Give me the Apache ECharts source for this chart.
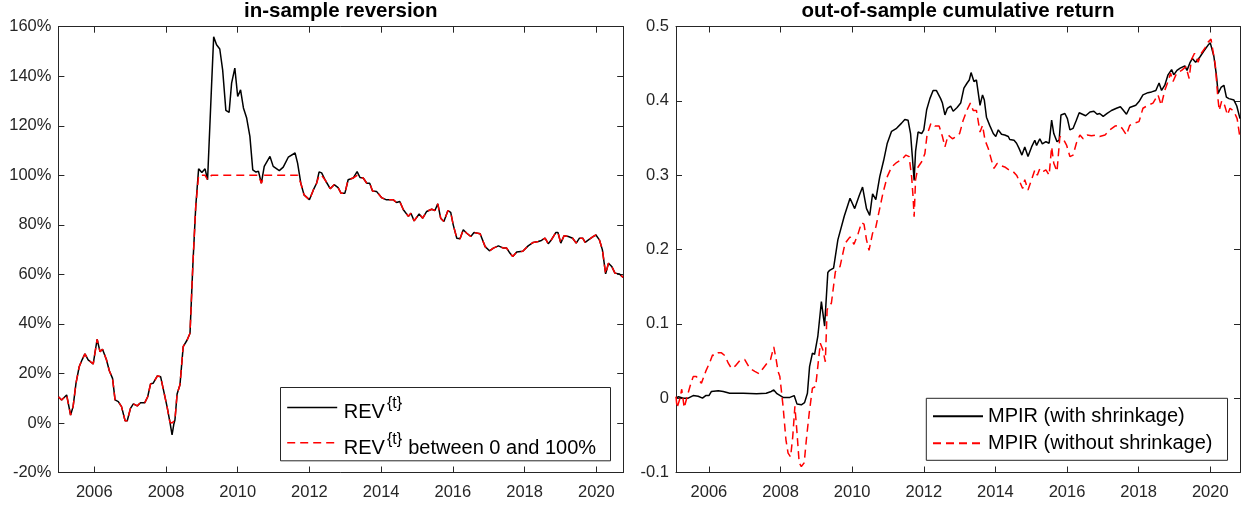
<!DOCTYPE html>
<html>
<head>
<meta charset="utf-8">
<script src="https://cdn.jsdelivr.net/npm/echarts@6/dist/echarts.min.js"></script>
<style>html,body{margin:0;padding:0;background:#fff}#chart{width:1241px;height:506px}</style>
</head>
<body>
<div id="chart"></div>
<script>
// ---- data ----
const leftTitle = 'in-sample reversion';
const rightTitle = 'out-of-sample cumulative return';
const xTickYears = [2006, 2008, 2010, 2012, 2014, 2016, 2018, 2020];

// REV^{t}, percent
const revPoints = [[2005.00,10.6],[2005.09,9.3],[2005.23,11.3],[2005.28,11.0],[2005.34,3.2],[2005.41,6.6],[2005.49,16.0],[2005.58,22.7],[2005.66,25.5],[2005.74,27.9],[2005.83,25.5],[2005.97,23.8],[2006.08,33.8],[2006.16,28.8],[2006.23,29.8],[2006.34,25.5],[2006.42,21.1],[2006.51,18.0],[2006.58,9.3],[2006.67,8.6],[2006.76,6.6],[2006.86,0.9],[2006.92,0.9],[2007.01,5.9],[2007.09,7.7],[2007.20,6.9],[2007.29,8.2],[2007.41,8.2],[2007.49,10.6],[2007.57,15.8],[2007.64,16.0],[2007.76,19.0],[2007.85,18.7],[2007.97,10.6],[2008.03,6.6],[2008.11,0.3],[2008.17,-4.8],[2008.22,-0.4],[2008.25,1.2],[2008.31,11.7],[2008.39,15.4],[2008.48,30.8],[2008.59,33.5],[2008.67,36.2],[2008.75,64.0],[2008.83,87.4],[2008.91,102.6],[2009.00,101.1],[2009.09,102.6],[2009.16,98.2],[2009.27,135.9],[2009.33,155.9],[2009.41,152.7],[2009.50,151.0],[2009.58,142.6],[2009.67,126.2],[2009.76,125.4],[2009.83,137.2],[2009.92,143.3],[2010.00,131.8],[2010.08,134.5],[2010.16,127.2],[2010.25,123.1],[2010.34,115.7],[2010.42,102.2],[2010.51,101.3],[2010.58,101.6],[2010.66,96.8],[2010.74,103.6],[2010.90,107.6],[2010.99,103.6],[2011.16,101.9],[2011.27,103.3],[2011.41,107.3],[2011.60,109.0],[2011.67,104.9],[2011.76,96.8],[2011.85,92.1],[2012.00,90.1],[2012.11,94.1],[2012.20,96.8],[2012.27,101.4],[2012.34,101.0],[2012.45,97.8],[2012.58,94.6],[2012.69,96.2],[2012.80,95.0],[2012.88,92.8],[2012.99,92.8],[2013.08,98.2],[2013.22,98.9],[2013.33,101.5],[2013.41,99.1],[2013.50,98.9],[2013.60,96.8],[2013.68,96.8],[2013.76,93.7],[2013.87,93.5],[2014.01,91.0],[2014.15,90.1],[2014.34,90.1],[2014.43,89.0],[2014.52,89.4],[2014.62,86.1],[2014.76,83.4],[2014.83,84.7],[2014.92,81.6],[2015.06,84.4],[2015.16,82.7],[2015.27,85.4],[2015.41,86.3],[2015.50,85.8],[2015.58,88.5],[2015.66,82.7],[2015.75,81.3],[2015.86,85.7],[2015.94,85.0],[2016.01,80.0],[2016.11,74.6],[2016.20,74.4],[2016.29,78.0],[2016.38,76.7],[2016.50,75.3],[2016.59,76.9],[2016.76,76.4],[2016.90,71.2],[2017.02,69.5],[2017.13,70.6],[2017.27,71.5],[2017.41,70.6],[2017.50,70.6],[2017.59,68.6],[2017.67,67.2],[2017.78,69.0],[2017.95,69.3],[2018.10,71.5],[2018.24,72.9],[2018.38,73.3],[2018.47,73.7],[2018.57,74.6],[2018.66,72.4],[2018.75,74.0],[2018.87,76.9],[2018.93,76.9],[2019.01,72.6],[2019.10,75.6],[2019.22,75.3],[2019.34,74.6],[2019.44,72.6],[2019.53,74.6],[2019.62,74.6],[2019.69,72.9],[2019.81,74.2],[2019.92,75.3],[2019.99,75.9],[2020.09,73.8],[2020.17,69.9],[2020.26,60.2],[2020.34,64.5],[2020.43,63.2],[2020.52,60.5],[2020.64,60.2],[2020.75,58.8]];

// REV^{t} between 0 and 100%, percent
const revBoundedPoints = [[2005.00,10.6],[2005.09,9.3],[2005.23,11.3],[2005.28,11.0],[2005.34,3.2],[2005.41,6.6],[2005.49,16.0],[2005.58,22.7],[2005.66,25.5],[2005.74,27.9],[2005.83,25.5],[2005.97,23.8],[2006.08,33.8],[2006.16,28.8],[2006.23,29.8],[2006.34,25.5],[2006.42,21.1],[2006.51,18.0],[2006.58,9.3],[2006.67,8.6],[2006.76,6.6],[2006.86,0.9],[2006.92,0.9],[2007.01,5.9],[2007.09,7.7],[2007.20,6.9],[2007.29,8.2],[2007.41,8.2],[2007.49,10.6],[2007.57,15.8],[2007.64,16.0],[2007.76,19.0],[2007.85,18.7],[2007.97,10.6],[2008.03,6.6],[2008.11,0.3],[2008.17,0.0],[2008.22,0.0],[2008.25,1.2],[2008.31,11.7],[2008.39,15.4],[2008.48,30.8],[2008.59,33.5],[2008.67,36.2],[2008.75,64.0],[2008.83,87.4],[2008.91,100.0],[2009.00,100.0],[2009.09,100.0],[2009.16,98.2],[2009.27,100.0],[2009.33,100.0],[2009.41,100.0],[2009.50,100.0],[2009.58,100.0],[2009.67,100.0],[2009.76,100.0],[2009.83,100.0],[2009.92,100.0],[2010.00,100.0],[2010.08,100.0],[2010.16,100.0],[2010.25,100.0],[2010.34,100.0],[2010.42,100.0],[2010.51,100.0],[2010.58,100.0],[2010.66,96.8],[2010.74,100.0],[2010.90,100.0],[2010.99,100.0],[2011.16,100.0],[2011.27,100.0],[2011.41,100.0],[2011.60,100.0],[2011.67,100.0],[2011.76,96.8],[2011.85,92.1],[2012.00,90.1],[2012.11,94.1],[2012.20,96.8],[2012.27,100.0],[2012.34,100.0],[2012.45,97.8],[2012.58,94.6],[2012.69,96.2],[2012.80,95.0],[2012.88,92.8],[2012.99,92.8],[2013.08,98.2],[2013.22,98.9],[2013.33,100.0],[2013.41,99.1],[2013.50,98.9],[2013.60,96.8],[2013.68,96.8],[2013.76,93.7],[2013.87,93.5],[2014.01,91.0],[2014.15,90.1],[2014.34,90.1],[2014.43,89.0],[2014.52,89.4],[2014.62,86.1],[2014.76,83.4],[2014.83,84.7],[2014.92,81.6],[2015.06,84.4],[2015.16,82.7],[2015.27,85.4],[2015.41,86.3],[2015.50,85.8],[2015.58,88.5],[2015.66,82.7],[2015.75,81.3],[2015.86,85.7],[2015.94,85.0],[2016.01,80.0],[2016.11,74.6],[2016.20,74.4],[2016.29,78.0],[2016.38,76.7],[2016.50,75.3],[2016.59,76.9],[2016.76,76.4],[2016.90,71.2],[2017.02,69.5],[2017.13,70.6],[2017.27,71.5],[2017.41,70.6],[2017.50,70.6],[2017.59,68.6],[2017.67,67.2],[2017.78,69.0],[2017.95,69.3],[2018.10,71.5],[2018.24,72.9],[2018.38,73.3],[2018.47,73.7],[2018.57,74.6],[2018.66,72.4],[2018.75,74.0],[2018.87,76.9],[2018.93,76.9],[2019.01,72.6],[2019.10,75.6],[2019.22,75.3],[2019.34,74.6],[2019.44,72.6],[2019.53,74.6],[2019.62,74.6],[2019.69,72.9],[2019.81,74.2],[2019.92,75.3],[2019.99,75.9],[2020.09,73.8],[2020.17,69.9],[2020.26,60.2],[2020.34,64.5],[2020.43,63.2],[2020.52,60.5],[2020.64,60.2],[2020.75,58.8]];

// MPIR (with shrinkage)
const shrinkPoints = [[2005.08,0.000],[2005.15,0.002],[2005.28,0.000],[2005.42,0.000],[2005.56,0.0035],[2005.70,0.0025],[2005.82,0.000],[2005.91,0.0035],[2006.00,0.0035],[2006.07,0.009],[2006.26,0.010],[2006.40,0.009],[2006.58,0.0067],[2006.96,0.0067],[2007.33,0.006],[2007.60,0.0067],[2007.74,0.009],[2007.81,0.011],[2007.90,0.006],[2008.07,0.001],[2008.26,0.001],[2008.38,0.0035],[2008.46,-0.008],[2008.58,-0.009],[2008.67,-0.006],[2008.75,0.0067],[2008.81,0.0425],[2008.89,0.0605],[2008.95,0.059],[2009.04,0.083],[2009.14,0.130],[2009.23,0.097],[2009.32,0.169],[2009.37,0.172],[2009.48,0.175],[2009.60,0.213],[2009.78,0.245],[2009.94,0.269],[2010.07,0.255],[2010.20,0.273],[2010.29,0.284],[2010.33,0.284],[2010.40,0.255],[2010.49,0.246],[2010.57,0.275],[2010.66,0.267],[2010.77,0.298],[2010.88,0.320],[2010.98,0.343],[2011.10,0.359],[2011.24,0.363],[2011.38,0.370],[2011.47,0.375],[2011.56,0.374],[2011.63,0.356],[2011.68,0.325],[2011.73,0.293],[2011.77,0.332],[2011.84,0.358],[2011.94,0.356],[2012.00,0.361],[2012.08,0.388],[2012.17,0.403],[2012.26,0.414],[2012.35,0.414],[2012.47,0.403],[2012.52,0.397],[2012.59,0.381],[2012.66,0.390],[2012.75,0.393],[2012.82,0.386],[2012.93,0.391],[2013.03,0.397],[2013.12,0.417],[2013.21,0.424],[2013.27,0.428],[2013.32,0.438],[2013.40,0.426],[2013.47,0.428],[2013.57,0.394],[2013.64,0.408],[2013.69,0.401],[2013.75,0.378],[2013.84,0.367],[2013.94,0.356],[2014.01,0.352],[2014.08,0.361],[2014.17,0.355],[2014.26,0.354],[2014.36,0.352],[2014.40,0.348],[2014.52,0.347],[2014.59,0.343],[2014.66,0.336],[2014.74,0.327],[2014.82,0.338],[2014.91,0.325],[2015.01,0.338],[2015.10,0.347],[2015.15,0.340],[2015.24,0.349],[2015.31,0.342],[2015.41,0.345],[2015.50,0.343],[2015.57,0.374],[2015.63,0.356],[2015.72,0.345],[2015.78,0.347],[2015.83,0.381],[2015.94,0.383],[2016.01,0.376],[2016.08,0.361],[2016.17,0.363],[2016.26,0.374],[2016.34,0.384],[2016.43,0.382],[2016.52,0.380],[2016.64,0.385],[2016.75,0.386],[2016.84,0.382],[2016.91,0.383],[2017.01,0.379],[2017.12,0.383],[2017.24,0.387],[2017.38,0.390],[2017.49,0.392],[2017.56,0.388],[2017.66,0.382],[2017.75,0.391],[2017.92,0.394],[2018.01,0.399],[2018.12,0.408],[2018.26,0.411],[2018.36,0.412],[2018.48,0.414],[2018.57,0.424],[2018.64,0.414],[2018.73,0.421],[2018.82,0.435],[2018.92,0.442],[2018.98,0.435],[2019.07,0.441],[2019.16,0.444],[2019.29,0.447],[2019.35,0.441],[2019.43,0.451],[2019.50,0.457],[2019.59,0.452],[2019.71,0.459],[2019.82,0.467],[2019.94,0.475],[2020.00,0.478],[2020.10,0.460],[2020.17,0.435],[2020.22,0.410],[2020.30,0.418],[2020.38,0.421],[2020.45,0.405],[2020.52,0.403],[2020.66,0.401],[2020.74,0.393],[2020.83,0.376]];

// MPIR (without shrinkage)
const plainPoints = [[2005.08,0.002],[2005.11,-0.013],[2005.19,-0.0005],[2005.24,0.012],[2005.31,-0.013],[2005.39,0.002],[2005.47,0.0156],[2005.56,0.029],[2005.65,0.029],[2005.79,0.020],[2005.91,0.036],[2006.03,0.049],[2006.10,0.058],[2006.17,0.057],[2006.26,0.061],[2006.35,0.061],[2006.45,0.057],[2006.54,0.047],[2006.63,0.040],[2006.73,0.043],[2006.86,0.0505],[2007.00,0.052],[2007.14,0.040],[2007.28,0.036],[2007.40,0.033],[2007.51,0.040],[2007.62,0.047],[2007.72,0.052],[2007.81,0.069],[2007.87,0.054],[2007.93,0.036],[2007.98,0.029],[2008.07,-0.011],[2008.15,-0.056],[2008.21,-0.074],[2008.28,-0.079],[2008.34,-0.052],[2008.40,-0.011],[2008.46,-0.047],[2008.52,-0.087],[2008.58,-0.092],[2008.66,-0.087],[2008.72,-0.056],[2008.80,-0.020],[2008.89,0.0134],[2008.98,0.0156],[2009.04,0.0425],[2009.11,0.074],[2009.18,0.065],[2009.25,0.049],[2009.30,0.119],[2009.42,0.128],[2009.53,0.170],[2009.66,0.177],[2009.80,0.208],[2009.94,0.217],[2010.05,0.207],[2010.17,0.222],[2010.26,0.236],[2010.33,0.234],[2010.40,0.213],[2010.47,0.199],[2010.57,0.222],[2010.66,0.230],[2010.75,0.251],[2010.86,0.276],[2010.98,0.298],[2011.10,0.311],[2011.24,0.317],[2011.38,0.321],[2011.50,0.327],[2011.59,0.325],[2011.66,0.298],[2011.70,0.271],[2011.73,0.244],[2011.77,0.294],[2011.84,0.311],[2011.94,0.318],[2012.03,0.329],[2012.09,0.354],[2012.20,0.370],[2012.31,0.366],[2012.43,0.366],[2012.52,0.352],[2012.59,0.338],[2012.68,0.354],[2012.80,0.349],[2012.91,0.352],[2013.00,0.356],[2013.10,0.374],[2013.21,0.388],[2013.30,0.397],[2013.38,0.387],[2013.47,0.387],[2013.57,0.358],[2013.64,0.367],[2013.71,0.347],[2013.80,0.336],[2013.89,0.320],[2013.96,0.309],[2014.05,0.316],[2014.14,0.313],[2014.26,0.311],[2014.38,0.307],[2014.49,0.305],[2014.59,0.300],[2014.68,0.291],[2014.76,0.282],[2014.82,0.294],[2014.91,0.280],[2015.01,0.294],[2015.10,0.307],[2015.17,0.300],[2015.24,0.309],[2015.34,0.305],[2015.41,0.307],[2015.50,0.300],[2015.57,0.338],[2015.63,0.316],[2015.72,0.305],[2015.80,0.352],[2015.89,0.349],[2015.99,0.340],[2016.08,0.325],[2016.17,0.327],[2016.26,0.343],[2016.36,0.354],[2016.45,0.349],[2016.56,0.354],[2016.68,0.353],[2016.80,0.354],[2016.91,0.352],[2017.06,0.354],[2017.20,0.361],[2017.34,0.366],[2017.45,0.367],[2017.54,0.363],[2017.66,0.354],[2017.75,0.367],[2017.89,0.370],[2018.01,0.372],[2018.12,0.390],[2018.26,0.394],[2018.40,0.397],[2018.54,0.408],[2018.63,0.394],[2018.73,0.414],[2018.82,0.426],[2018.89,0.437],[2018.96,0.426],[2019.06,0.437],[2019.20,0.441],[2019.32,0.446],[2019.41,0.430],[2019.47,0.455],[2019.56,0.464],[2019.66,0.452],[2019.75,0.464],[2019.85,0.471],[2019.94,0.479],[2020.02,0.483],[2020.14,0.448],[2020.21,0.405],[2020.25,0.387],[2020.32,0.400],[2020.40,0.394],[2020.48,0.381],[2020.55,0.390],[2020.66,0.386],[2020.75,0.376],[2020.83,0.350]];

const seriesNames = ['REV', 'REV between 0 and 100%', 'MPIR (with shrinkage)', 'MPIR (without shrinkage)'];

// ---- styling ----
const FONT = "'Liberation Sans', Arial, Helvetica, sans-serif";
const AX = '#262626';
const tickFont = 16.5;

function xAx(gridIndex, min, max, pos) {
  return {
    type: 'value', gridIndex, min, max, position: pos,
    splitNumber: 8, minInterval: 2, maxInterval: 2,
    axisLine: { show: true, onZero: false, lineStyle: { color: AX, width: 1 } },
    axisTick: { show: true, inside: true, length: 6, lineStyle: { color: AX, width: 1 } },
    axisLabel: {
      show: pos === 'bottom', color: AX, fontSize: tickFont, fontFamily: FONT, margin: 11,
      showMinLabel: false, showMaxLabel: false,
      formatter: v => (xTickYears.indexOf(Math.round(v)) >= 0 && Math.abs(v - Math.round(v)) < 1e-6) ? String(Math.round(v)) : ''
    },
    splitLine: { show: false }
  };
}
function yAx(gridIndex, min, max, interval, pos, fmt) {
  return {
    type: 'value', gridIndex, min, max, interval, position: pos,
    axisLine: { show: true, onZero: false, lineStyle: { color: AX, width: 1 } },
    axisTick: { show: true, inside: true, length: 6, lineStyle: { color: AX, width: 1 } },
    axisLabel: { show: pos === 'left', color: AX, fontSize: tickFont, fontFamily: FONT, margin: 7, formatter: fmt },
    splitLine: { show: false }
  };
}

const chart = echarts.init(document.getElementById('chart'), null, { renderer: 'canvas' });
const legendTextStyle = { fontFamily: FONT, fontSize: 20, fill: '#000' };

chart.setOption({
  animation: false,
  backgroundColor: '#fff',
  title: [
    { text: leftTitle, left: 340.8, top: 1, padding: 0, textAlign: 'center',
      textStyle: { fontSize: 20.5, fontWeight: 'bold', color: '#000', fontFamily: FONT } },
    { text: rightTitle, left: 958, top: 1, padding: 0, textAlign: 'center',
      textStyle: { fontSize: 20.5, fontWeight: 'bold', color: '#000', fontFamily: FONT } }
  ],
  grid: [
    { left: 58.4, top: 26.7, width: 564.8, height: 445.8, containLabel: false },
    { left: 676, top: 26.5, width: 564, height: 446, containLabel: false }
  ],
  xAxis: [
    xAx(0, 2005, 2020.75, 'bottom'), xAx(0, 2005, 2020.75, 'top'),
    xAx(1, 2005.08, 2020.83, 'bottom'), xAx(1, 2005.08, 2020.83, 'top')
  ],
  yAxis: [
    yAx(0, -20, 160, 20, 'left', '{value}%'), yAx(0, -20, 160, 20, 'right'),
    yAx(1, -0.1, 0.5, 0.1, 'left', v => String(+(+v).toFixed(1))), yAx(1, -0.1, 0.5, 0.1, 'right')
  ],
  legend: {
    data: [seriesNames[2], seriesNames[3]],
    orient: 'vertical', left: 926.3, top: 398.3,
    padding: [8, 15, 7, 5.7], itemGap: 7, itemWidth: 50, itemHeight: 14,
    backgroundColor: '#fff', borderColor: AX, borderWidth: 1,
    itemStyle: { opacity: 0, borderWidth: 0 },
    textStyle: { fontSize: 20, color: '#000', fontFamily: FONT },
    selectedMode: false
  },
  series: [
    { name: seriesNames[0], type: 'line', xAxisIndex: 0, yAxisIndex: 0, data: revPoints,
      symbol: 'none', showSymbol: false, lineStyle: { color: '#000', width: 1.5 }, itemStyle: { color: '#000' } },
    { name: seriesNames[1], type: 'line', xAxisIndex: 0, yAxisIndex: 0, data: revBoundedPoints,
      symbol: 'none', showSymbol: false, lineStyle: { color: '#ff0000', width: 1.5, type: [8, 5] }, itemStyle: { color: '#ff0000' } },
    { name: seriesNames[2], type: 'line', xAxisIndex: 2, yAxisIndex: 2, data: shrinkPoints,
      symbol: 'none', showSymbol: false, lineStyle: { color: '#000', width: 1.5 }, itemStyle: { color: '#000' } },
    { name: seriesNames[3], type: 'line', xAxisIndex: 2, yAxisIndex: 2, data: plainPoints,
      symbol: 'none', showSymbol: false, lineStyle: { color: '#ff0000', width: 1.5, type: [8, 5] }, itemStyle: { color: '#ff0000' } }
  ],
  graphic: [
    { type: 'group', left: 280, top: 387, z: 100, children: [
      { type: 'rect', shape: { x: 0, y: 0, width: 330, height: 73.3 }, style: { fill: '#fff', stroke: AX, lineWidth: 1 } },
      { type: 'line', shape: { x1: 6.7, y1: 20, x2: 56.7, y2: 20 }, style: { stroke: '#000', lineWidth: 1.5 } },
      { type: 'line', shape: { x1: 6.7, y1: 55.3, x2: 56.7, y2: 55.3 }, style: { stroke: '#ff0000', lineWidth: 1.5, lineDash: [8, 5] } },
      { type: 'text', x: 63.3, y: 25, style: Object.assign({ text: 'REV', verticalAlign: 'middle', align: 'left' }, legendTextStyle) },
      { type: 'text', x: 106.5, y: 16.5, style: { text: '{t}', fontFamily: FONT, fontSize: 16, fill: '#000', verticalAlign: 'middle', align: 'left' } },
      { type: 'text', x: 63.3, y: 60.5, style: Object.assign({ text: 'REV', verticalAlign: 'middle', align: 'left' }, legendTextStyle) },
      { type: 'text', x: 106.5, y: 52, style: { text: '{t}', fontFamily: FONT, fontSize: 16, fill: '#000', verticalAlign: 'middle', align: 'left' } },
      { type: 'text', x: 127.7, y: 60.5, style: Object.assign({ text: 'between 0 and 100%', verticalAlign: 'middle', align: 'left' }, legendTextStyle) }
    ] }
  ]
});
</script>
</body>
</html>
